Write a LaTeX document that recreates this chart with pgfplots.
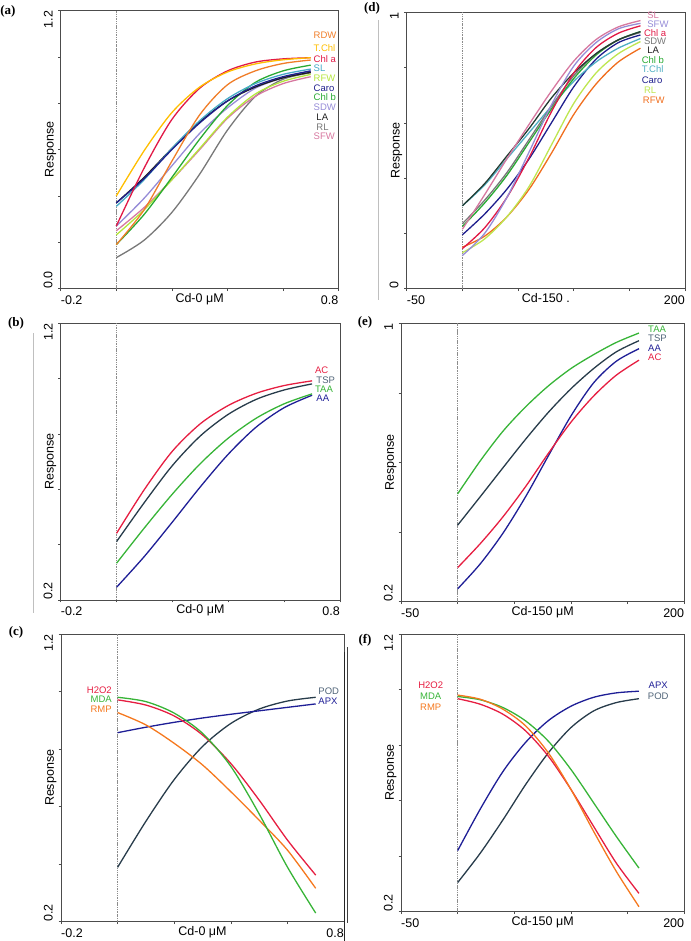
\documentclass[border=0pt]{standalone}
\usepackage{fontspec}
\setmainfont{Liberation Sans}
\newfontfamily\serifb{Liberation Serif}
\usepackage{pgfplots}
\pgfplotsset{compat=1.18}
\newcommand\fs{\fontsize{12.5}{14}\selectfont}
\newcommand\ls{\fontsize{9.5}{10}\selectfont}
\newcommand\pl{\serifb\bfseries\fontsize{13}{15}\selectfont}
% panel a/d colours
\definecolor{cRDW}{RGB}{240,125,40}
\definecolor{cTChl}{RGB}{255,190,0}
\definecolor{cChla}{RGB}{225,25,70}
\definecolor{cSL}{RGB}{70,170,200}
\definecolor{cRFW}{RGB}{180,230,60}
\definecolor{cCaro}{RGB}{30,30,140}
\definecolor{cChlb}{RGB}{40,170,50}
\definecolor{cSDW}{RGB}{150,140,215}
\definecolor{cLA}{RGB}{30,30,30}
\definecolor{cRL}{RGB}{120,120,120}
\definecolor{cSFW}{RGB}{215,120,160}
\definecolor{dSL}{RGB}{215,120,160}
\definecolor{dLA}{RGB}{35,60,50}
\definecolor{dRL}{RGB}{190,230,80}
\definecolor{dRFW}{RGB}{240,110,30}
\definecolor{dTChl}{RGB}{80,175,195}
% panel b/c/e/f colours
\definecolor{cRed}{RGB}{230,30,65}
\definecolor{cSlate}{RGB}{40,60,75}
\definecolor{cSlateL}{RGB}{80,100,120}
\definecolor{cGreen}{RGB}{55,180,55}
\definecolor{cBlue}{RGB}{30,30,150}
\definecolor{cOrange}{RGB}{245,120,30}
\tikzset{
 lab/.style={font=\ls, inner sep=0pt},
 zline/.style={black!45, densely dotted, line width=0.5pt},
}
\pgfplotsset{
 panel/.style={
  scale only axis,
  axis line style={black!70, line width=0.7pt},
  tick style={black!70, line width=0.6pt},
  tick align=outside, major tick length=2.5pt,
  xtick pos=bottom, ytick pos=left,
  tick label style={font=\fs, inner sep=0pt},
  xticklabel style={anchor=north east},
  yticklabel style={rotate=90, anchor=south east},
  extra x tick style={xticklabel style={anchor=north west}},
  extra y tick style={yticklabel style={anchor=south west}},
  xticklabel shift=4.5pt, yticklabel shift=5.5pt,
  label style={font=\fs},
  xlabel style={at={(axis description cs:0.5,0)}, anchor=north, inner sep=0pt, yshift=-4.5pt},
  ylabel style={at={(axis description cs:-0.015,0.5)}, anchor=south, inner sep=0pt},
  ylabel={Response},
  clip=false,
  every axis plot/.append style={line width=1.3pt, smooth, no markers},
  anchor=south west,
 },
}
\begin{document}
\begin{tikzpicture}
\useasboundingbox (0pt,0pt) rectangle (690pt,941pt);
% ---------------- (a)
\begin{axis}[panel, at={(60.7pt,652.3pt)}, width=277.8pt, height=278pt,
  xmin=-0.2, xmax=0.8, ymin=0, ymax=1.2,
  xtick={0,0.2,0.4,0.6,0.8}, xticklabels={,,,,0.8}, extra x ticks={-0.2}, extra x tick labels={-0.2},
  ytick={0.2,0.4,0.6,0.8,1.0,1.2}, yticklabels={,,,,,1.2}, extra y ticks={0}, extra y tick labels={0.0},
  xlabel={Cd-0 μM}]
\addplot[zline] coordinates {(0,0) (0,1.2)};
\addplot[cRL] coordinates {(0,0.134) (0.1,0.209) (0.2,0.329) (0.3,0.494) (0.4,0.684) (0.5,0.829) (0.6,0.904) (0.7,0.932)};
\addplot[cSFW] coordinates {(0,0.25) (0.1,0.35) (0.2,0.47) (0.3,0.60) (0.4,0.735) (0.5,0.83) (0.6,0.885) (0.7,0.915)};
\addplot[cRFW] coordinates {(0,0.232) (0.1,0.34) (0.2,0.47) (0.3,0.605) (0.4,0.74) (0.5,0.84) (0.6,0.895) (0.7,0.925)};
\addplot[cSDW] coordinates {(0,0.27) (0.1,0.39) (0.2,0.53) (0.3,0.67) (0.4,0.78) (0.5,0.865) (0.6,0.91) (0.7,0.94)};
\addplot[cChlb] coordinates {(0,0.19) (0.1,0.32) (0.2,0.48) (0.3,0.645) (0.4,0.79) (0.5,0.89) (0.6,0.94) (0.7,0.965)};
\addplot[cLA] coordinates {(0,0.37) (0.1,0.48) (0.2,0.605) (0.3,0.72) (0.4,0.81) (0.5,0.87) (0.6,0.91) (0.7,0.934)};
\addplot[cSL] coordinates {(0,0.355) (0.1,0.47) (0.2,0.605) (0.3,0.725) (0.4,0.82) (0.5,0.885) (0.6,0.925) (0.7,0.948)};
\addplot[cCaro] coordinates {(0,0.37) (0.1,0.475) (0.2,0.60) (0.3,0.715) (0.4,0.81) (0.5,0.875) (0.6,0.915) (0.7,0.94)};
\addplot[cRDW] coordinates {(0,0.19) (0.1,0.34) (0.2,0.55) (0.3,0.75) (0.4,0.88) (0.5,0.94) (0.6,0.972) (0.7,0.987)};
\addplot[cChla] coordinates {(0,0.27) (0.1,0.52) (0.2,0.73) (0.3,0.865) (0.4,0.94) (0.5,0.978) (0.6,0.992) (0.7,0.997)};
\addplot[cTChl] coordinates {(0,0.40) (0.1,0.595) (0.2,0.76) (0.3,0.87) (0.4,0.935) (0.5,0.97) (0.6,0.988) (0.7,0.997)};
\node[lab, anchor=west, text=cRDW] at (axis cs:0.71,1.092) {RDW};
\node[lab, anchor=west, text=cTChl] at (axis cs:0.71,1.040) {T.Chl};
\node[lab, anchor=west, text=cChla] at (axis cs:0.71,0.991) {Chl a};
\node[lab, anchor=west, text=cSL] at (axis cs:0.71,0.951) {SL};
\node[lab, anchor=west, text=cRFW] at (axis cs:0.71,0.908) {RFW};
\node[lab, anchor=west, text=cCaro] at (axis cs:0.71,0.865) {Caro};
\node[lab, anchor=west, text=cChlb] at (axis cs:0.71,0.826) {Chl b};
\node[lab, anchor=west, text=cSDW] at (axis cs:0.71,0.785) {SDW};
\node[lab, anchor=west, text=cLA] at (axis cs:0.72,0.742) {LA};
\node[lab, anchor=west, text=cRL] at (axis cs:0.72,0.699) {RL};
\node[lab, anchor=west, text=cSFW] at (axis cs:0.71,0.656) {SFW};
\end{axis}
% ---------------- (d)
\begin{axis}[panel, at={(406.7pt,652.3pt)}, width=278.3pt, height=276.4pt,
  xmin=-50, xmax=200, ymin=0, ymax=1,
  xtick={0,50,100,150,200}, xticklabels={,,,,200}, extra x ticks={-50}, extra x tick labels={-50},
  ytick={0.2,0.4,0.6,0.8,1}, yticklabels={,,,,1}, extra y ticks={0}, extra y tick labels={0},
  xlabel={Cd-150 .}]
\addplot[zline] coordinates {(0,0) (0,1)};
\addplot[dRFW] coordinates {(0,0.15) (20,0.19) (40,0.26) (60,0.36) (80,0.49) (100,0.63) (120,0.74) (140,0.82) (160,0.87)};
\addplot[dRL] coordinates {(0,0.13) (20,0.18) (40,0.26) (60,0.37) (80,0.52) (100,0.67) (120,0.78) (140,0.85) (160,0.894)};
\addplot[cCaro] coordinates {(0,0.195) (20,0.27) (40,0.36) (60,0.47) (80,0.60) (100,0.73) (120,0.83) (140,0.89) (160,0.918)};
\addplot[dTChl] coordinates {(0,0.30) (20,0.375) (40,0.47) (60,0.565) (80,0.66) (100,0.75) (120,0.82) (140,0.87) (160,0.905)};
\addplot[cChlb] coordinates {(0,0.225) (20,0.31) (40,0.41) (60,0.53) (80,0.65) (100,0.76) (120,0.845) (140,0.90) (160,0.93)};
\addplot[cRL] coordinates {(0,0.235) (20,0.32) (40,0.42) (60,0.54) (80,0.66) (100,0.77) (120,0.85) (140,0.90) (160,0.927)};
\addplot[dLA] coordinates {(0,0.30) (20,0.38) (40,0.48) (60,0.58) (80,0.69) (100,0.78) (120,0.85) (140,0.90) (160,0.93)};
\addplot[cChla] coordinates {(0,0.145) (20,0.22) (40,0.33) (60,0.475) (80,0.64) (100,0.78) (120,0.872) (140,0.924) (160,0.951)};
\addplot[cSDW] coordinates {(0,0.12) (20,0.20) (40,0.33) (60,0.495) (80,0.665) (100,0.805) (120,0.89) (140,0.94) (160,0.96)};
\addplot[dSL] coordinates {(0,0.215) (20,0.34) (40,0.47) (60,0.595) (80,0.715) (100,0.823) (120,0.901) (140,0.947) (160,0.97)};
\node[lab, anchor=west, text=dSL] at (axis cs:166,0.99) {SL};
\node[lab, anchor=west, text=cSDW] at (axis cs:166,0.958) {SFW};
\node[lab, anchor=west, text=cChla] at (axis cs:163,0.924) {Chl a};
\node[lab, anchor=west, text=cRL] at (axis cs:163,0.894) {SDW};
\node[lab, anchor=west, text=cLA] at (axis cs:166,0.864) {LA};
\node[lab, anchor=west, text=cChlb] at (axis cs:161,0.828) {Chl b};
\node[lab, anchor=west, text=dTChl] at (axis cs:161,0.794) {T.Chl};
\node[lab, anchor=west, text=cCaro] at (axis cs:161,0.755) {Caro};
\node[lab, anchor=west, text=dRL] at (axis cs:163,0.719) {RL};
\node[lab, anchor=west, text=dRFW] at (axis cs:162,0.683) {RFW};
\end{axis}
% ---------------- (b)
\begin{axis}[panel, at={(60.7pt,341pt)}, width=279.3pt, height=276.7pt,
  xmin=-0.2, xmax=0.8, ymin=0.2, ymax=1.2,
  xtick={0,0.2,0.4,0.6,0.8}, xticklabels={,,,,0.8}, extra x ticks={-0.2}, extra x tick labels={-0.2},
  ytick={0.4,0.6,0.8,1.0,1.2}, yticklabels={,,,,1.2}, extra y ticks={0.2}, extra y tick labels={0.2},
  xlabel={Cd-0 μM}]
\addplot[zline] coordinates {(0,0.2) (0,1.2)};
\addplot[cBlue] coordinates {(0,0.246) (0.1,0.358) (0.2,0.482) (0.3,0.609) (0.4,0.727) (0.5,0.825) (0.6,0.895) (0.7,0.940)};
\addplot[cGreen] coordinates {(0,0.333) (0.1,0.461) (0.2,0.583) (0.3,0.693) (0.4,0.785) (0.5,0.857) (0.6,0.909) (0.7,0.945)};
\addplot[cSlate] coordinates {(0,0.411) (0.1,0.553) (0.2,0.686) (0.3,0.793) (0.4,0.871) (0.5,0.925) (0.6,0.959) (0.7,0.981)};
\addplot[cRed] coordinates {(0,0.441) (0.1,0.60) (0.2,0.738) (0.3,0.837) (0.4,0.903) (0.5,0.947) (0.6,0.975) (0.7,0.992)};
\node[lab, anchor=west, text=cRed] at (axis cs:0.71,1.029) {AC};
\node[lab, anchor=west, text=cSlateL] at (axis cs:0.715,0.995) {TSP};
\node[lab, anchor=west, text=cGreen] at (axis cs:0.71,0.961) {TAA};
\node[lab, anchor=west, text=cBlue] at (axis cs:0.715,0.928) {AA};
\end{axis}
% ---------------- (e)
\begin{axis}[panel, at={(401pt,339.3pt)}, width=283.3pt, height=278.4pt,
  xmin=-50, xmax=200, ymin=0.2, ymax=1,
  xtick={0,50,100,150,200}, xticklabels={,,,,200}, extra x ticks={-50}, extra x tick labels={-50},
  ytick={0.4,0.6,0.8,1}, yticklabels={,,,1}, extra y ticks={0.2}, extra y tick labels={0.2},
  xlabel={Cd-150 μM}]
\addplot[zline] coordinates {(0,0.2) (0,1)};
\addplot[cBlue] coordinates {(0,0.237) (20,0.309) (40,0.397) (60,0.502) (80,0.619) (100,0.734) (120,0.829) (140,0.891) (160,0.927)};
\addplot[cRed] coordinates {(0,0.298) (20,0.367) (40,0.444) (60,0.531) (80,0.626) (100,0.716) (120,0.791) (140,0.851) (160,0.894)};
\addplot[cSlate] coordinates {(0,0.420) (20,0.502) (40,0.585) (60,0.667) (80,0.744) (100,0.812) (120,0.870) (140,0.918) (160,0.950)};
\addplot[cGreen] coordinates {(0,0.51) (20,0.605) (40,0.69) (60,0.76) (80,0.82) (100,0.87) (120,0.91) (140,0.945) (160,0.972)};
\node[lab, anchor=west, text=cGreen] at (axis cs:168,0.982) {TAA};
\node[lab, anchor=west, text=cSlateL] at (axis cs:168,0.956) {TSP};
\node[lab, anchor=west, text=cBlue] at (axis cs:168,0.929) {AA};
\node[lab, anchor=west, text=cRed] at (axis cs:168,0.902) {AC};
\end{axis}
% ---------------- (c)
\begin{axis}[panel, at={(61pt,19.3pt)}, width=283pt, height=287.7pt,
  xmin=-0.2, xmax=0.8, ymin=0.2, ymax=1.2,
  xtick={0,0.2,0.4,0.6,0.8}, xticklabels={,,,,0.8}, extra x ticks={-0.2}, extra x tick labels={-0.2},
  ytick={0.4,0.6,0.8,1.0,1.2}, yticklabels={,,,,1.2}, extra y ticks={0.2}, extra y tick labels={0.2},
  xlabel={Cd-0 μM}]
\addplot[zline] coordinates {(0,0.2) (0,1.2)};
\addplot[cSlate] coordinates {(0,0.389) (0.1,0.549) (0.2,0.694) (0.3,0.809) (0.4,0.889) (0.5,0.939) (0.6,0.967) (0.7,0.980)};
\addplot[cBlue] coordinates {(0,0.857) (0.1,0.876) (0.2,0.893) (0.3,0.908) (0.4,0.921) (0.5,0.933) (0.6,0.945) (0.7,0.957)};
\addplot[cOrange] coordinates {(0,0.927) (0.1,0.884) (0.2,0.820) (0.3,0.745) (0.4,0.652) (0.5,0.553) (0.6,0.449) (0.7,0.316)};
\addplot[cRed] coordinates {(0,0.971) (0.1,0.953) (0.2,0.915) (0.3,0.849) (0.4,0.750) (0.5,0.623) (0.6,0.484) (0.7,0.362)};
\addplot[cGreen] coordinates {(0,0.980) (0.1,0.965) (0.2,0.925) (0.3,0.855) (0.4,0.740) (0.5,0.575) (0.6,0.390) (0.7,0.230)};
\node[lab, anchor=east, text=cRed] at (axis cs:-0.02,1.005) {H2O2};
\node[lab, anchor=east, text=cGreen] at (axis cs:-0.02,0.973) {MDA};
\node[lab, anchor=east, text=cOrange] at (axis cs:-0.02,0.939) {RMP};
\node[lab, anchor=west, text=cSlateL] at (axis cs:0.709,1.002) {POD};
\node[lab, anchor=west, text=cBlue] at (axis cs:0.709,0.965) {APX};
\end{axis}
% ---------------- (f)
\begin{axis}[panel, at={(401pt,29.3pt)}, width=283.3pt, height=277.7pt,
  xmin=-50, xmax=200, ymin=0.2, ymax=1.2,
  xtick={0,50,100,150,200}, xticklabels={,,,,200}, extra x ticks={-50}, extra x tick labels={-50},
  ytick={0.4,0.6,0.8,1.0,1.2}, yticklabels={,,,,1.2}, extra y ticks={0.2}, extra y tick labels={0.2},
  xlabel={Cd-150 μM}]
\addplot[zline] coordinates {(0,0.2) (0,1.2)};
\addplot[cSlate] coordinates {(0,0.305) (20,0.411) (40,0.531) (60,0.658) (80,0.772) (100,0.863) (120,0.923) (140,0.953) (160,0.967)};
\addplot[cBlue] coordinates {(0,0.420) (20,0.570) (40,0.705) (60,0.810) (80,0.888) (100,0.940) (120,0.972) (140,0.988) (160,0.994)};
\addplot[cGreen] coordinates {(0,0.975) (20,0.963) (40,0.935) (60,0.887) (80,0.814) (100,0.712) (120,0.592) (140,0.471) (160,0.357)};
\addplot[cRed] coordinates {(0,0.967) (20,0.947) (40,0.911) (60,0.851) (80,0.760) (100,0.640) (120,0.507) (140,0.375) (160,0.266)};
\addplot[cOrange] coordinates {(0,0.980) (20,0.965) (40,0.929) (60,0.869) (80,0.772) (100,0.640) (120,0.489) (140,0.345) (160,0.218)};
\node[lab, text=cRed] at (axis cs:-23.8,1.016) {H2O2};
\node[lab, text=cGreen] at (axis cs:-23.8,0.975) {MDA};
\node[lab, text=cOrange] at (axis cs:-23.8,0.935) {RMP};
\node[lab, text=cBlue] at (axis cs:177,1.016) {APX};
\node[lab, text=cSlateL] at (axis cs:177,0.975) {POD};
\end{axis}
% ---------------- panel letters and frame remnants
\node[font=\pl] at (8pt,930pt) {(a)};
\node[font=\pl] at (372pt,933pt) {(d)};
\node[font=\pl] at (16pt,618pt) {(b)};
\node[font=\pl] at (365pt,619pt) {(e)};
\node[font=\pl] at (16pt,309pt) {(c)};
\node[font=\pl] at (365pt,301pt) {(f)};
\draw[black!25, line width=0.8pt] (33pt,328pt) -- (33pt,608pt);
\draw[black!25, line width=0.8pt] (378pt,641pt) -- (378pt,921pt);
\draw[black!85, line width=1pt] (344pt,0pt) -- (344pt,289pt);
\draw[black!75, line width=1pt] (347pt,18pt) -- (347pt,294pt);
\end{tikzpicture}
\end{document}
